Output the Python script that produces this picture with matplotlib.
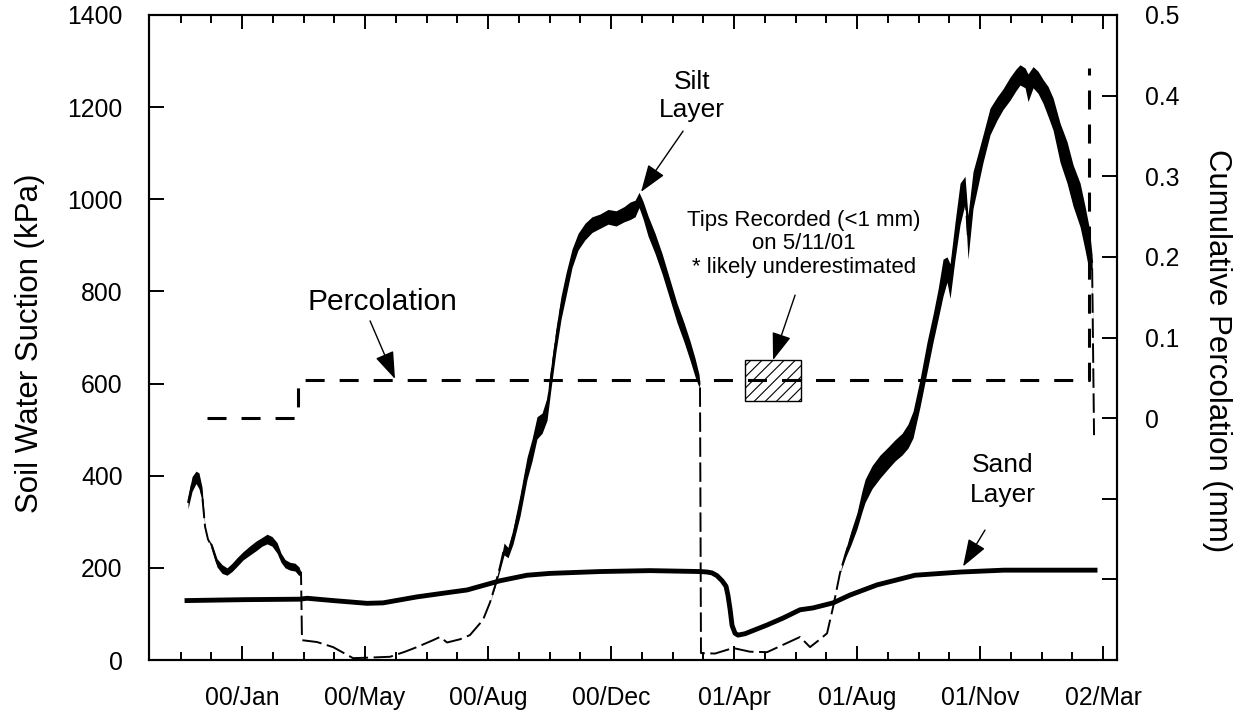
import numpy as np
import matplotlib
matplotlib.use("Agg")
import matplotlib.pyplot as plt
import matplotlib.dates as mdates
from matplotlib.patches import Rectangle
from matplotlib.ticker import FixedLocator, FuncFormatter

plt.rcParams['font.family'] = ['Liberation Sans', 'DejaVu Sans']
plt.rcParams['lines.scale_dashes'] = False
plt.rcParams['hatch.linewidth'] = 0.8

# ---- data (time in days counted from 1 Jan 2000) ----
# silt layer suction: lower / upper envelope of the diurnal swing (kPa)
silt_day = [-31.2, -27.5, -23.9, -21.2, -18.4, -15.7, -13.0, -9.3, -4.8, -0.2,
            4.3, 8.9, 13.4, 18.9, 25.3, 30.7, 36.2, 40.8, 45.3, 49.9,
            53.5, 57.2, 61.7, 66.3, 69.9, 71.7, 72.6, 86.3, 100.9, 119.1,
            131.8, 152.8, 166.4, 177.3, 191.9, 198.3, 204.7, 216.5, 225.5, 237.4,
            243.8, 248.4, 252.9, 256.6, 260.2, 264.8, 271.1, 277.5, 282.1, 286.6,
            291.2, 295.7, 299.4, 303.9, 308.5, 313.0, 318.5, 324.0, 330.3, 336.7,
            344.0, 351.3, 358.6, 365.8, 371.3, 375.9, 379.5, 383.1, 387.7, 394.1,
            400.5, 407.7, 414.1, 420.5, 426.0, 430.5, 434.1, 435.0, 435.9, 448.7,
            465.1, 480.6, 496.1, 507.9, 519.7, 526.1, 535.2, 544.3, 550.7, 556.2,
            562.5, 568.0, 572.5, 578.0, 582.6, 585.3, 591.7, 599.0, 606.2, 612.6,
            619.0, 624.4, 629.0, 635.4, 641.7, 647.2, 651.8, 656.3, 659.9, 662.7,
            667.2, 671.8, 676.3, 679.0, 683.6, 688.2, 692.7, 699.1, 705.5, 711.0,
            717.3, 722.8, 726.4, 731.0, 733.7, 738.3, 742.8, 747.4, 751.9, 756.5,
            762.9, 769.2, 774.7, 781.1, 785.6, 789.3, 792.0, 793.8]
silt_low = [328, 366, 383, 372, 345, 290, 262, 238, 202, 188,
            184, 192, 203, 217, 228, 237, 247, 252, 247, 232,
            212, 200, 195, 193, 183, 190, 43, 39, 28, 4,
            5, 7, 18, 28, 43, 50, 38, 45, 54, 87,
            125, 158, 195, 228, 222, 252, 312, 392, 432, 480,
            492, 520, 590, 670, 740, 790, 852, 890, 912, 928,
            937, 946, 942, 951, 956, 962, 982, 958, 920, 882,
            838, 782, 732, 690, 650, 615, 592, 600, 15, 14,
            26, 18, 17, 30, 43, 50, 28, 45, 58, 115,
            189, 225, 250, 285, 322, 342, 372, 395, 415, 432,
            445, 460, 482, 550, 625, 690, 740, 790, 820, 785,
            870, 945, 990, 870, 980, 1030, 1080, 1140, 1172, 1195,
            1215, 1236, 1248, 1242, 1212, 1242, 1230, 1208, 1180, 1150,
            1080, 1035, 985, 940, 890, 845, 850, 488]
silt_high = [354, 398, 410, 406, 375, 290, 262, 252, 220, 207,
             200, 210, 222, 235, 248, 258, 266, 273, 268, 255,
             232, 218, 212, 210, 202, 190, 43, 39, 28, 4,
             5, 7, 18, 28, 43, 50, 38, 45, 54, 87,
             125, 164, 210, 254, 244, 285, 358, 440, 480, 528,
             536, 570, 640, 720, 790, 840, 892, 926, 948, 962,
             968, 978, 975, 984, 994, 998, 1015, 996, 964, 926,
             882, 825, 774, 732, 692, 655, 620, 600, 15, 14,
             26, 18, 17, 30, 43, 50, 28, 45, 58, 115,
             189, 243, 280, 320, 368, 392, 422, 445, 462, 478,
             492, 512, 540, 610, 690, 750, 805, 870, 875, 860,
             950, 1035, 1050, 965, 1060, 1100, 1140, 1198, 1222, 1240,
             1265, 1283, 1292, 1285, 1272, 1288, 1278, 1260, 1245, 1220,
             1165, 1125, 1075, 1035, 985, 940, 880, 488]

# sand layer suction (kPa)
sand_day = [-32.1, 20.7, 70.8, 77.2, 100.9, 131.8, 146.4, 177.3, 207.4, 222.9,
            252.9, 277.5, 298.5, 344.0, 389.5, 435.0, 441.4, 446.0, 450.5, 455.1,
            458.7, 460.5, 462.4, 464.2, 466.9, 469.6, 476.0, 496.1, 510.6, 526.1,
            537.9, 556.2, 571.6, 596.2, 630.8, 672.7, 711.9, 794.7]
sand_kpa = [129, 131, 132, 134, 129, 123, 124, 137, 147, 152,
            172, 184, 188, 192, 194, 192, 191, 189, 183, 172,
            160, 140, 110, 75, 58, 54, 57, 76, 91, 109,
            113, 124, 141, 163, 184, 191, 195, 195]

# cumulative percolation (mm)
perc_day = [-14, 69, 789]
perc_mm = [0.0, 0.047, 0.434]

# tipping-bucket record of 5/11/01
tips_day = [476, 527]
tips_mm = [0.021, 0.072]

suction_ticks = [0, 200, 400, 600, 800, 1000, 1200, 1400]
perc_ticks = [-0.3, -0.2, -0.1, 0.0, 0.1, 0.2, 0.3, 0.4, 0.5]
first_tick_day = 18
major_step = 112
minor_step = 28
n_major = 8

origin = np.datetime64('2000-01-01T00:00')


def to_num(days):
    d = np.asarray(days, dtype=float)
    return mdates.date2num(origin + np.round(d * 1440).astype('timedelta64[m]'))


fig = plt.figure(figsize=(12.44, 7.19), dpi=100)
ax = fig.add_axes([149 / 1244, 1 - 660 / 719, 968 / 1244, 645 / 719])
ax2 = ax.twinx()

# silt layer: diurnal band plus the dashed trace
ts = to_num(silt_day)
lo = np.array(silt_low, float)
hi = np.array(silt_high, float)
ax.fill_between(ts, lo, hi, color='black', lw=0, zorder=3)
ax.plot(ts, (lo + hi) / 2, color='black', lw=1.4, dashes=(14, 4), zorder=3)

# sand layer
ax.plot(to_num(sand_day), sand_kpa, color='black', lw=3.5, zorder=4,
        solid_joinstyle='round')

# percolation on the right axis
ax2.plot(to_num(perc_day), perc_mm, color='black', lw=2.2,
         drawstyle='steps-post', dashes=(13.7, 10.8), zorder=3)
tx = to_num(tips_day)
ax2.add_patch(Rectangle((tx[0], tips_mm[0]), tx[1] - tx[0],
                        tips_mm[1] - tips_mm[0], facecolor='white',
                        edgecolor='black', hatch='///', lw=1.0, zorder=2))

# axes ranges and ticks
ax.set_xlim(to_num(first_tick_day - 3 * minor_step - 0.7),
            to_num(first_tick_day + (n_major - 1) * major_step + 12.7))
ax.set_ylim(0, 1400)
ax2.set_ylim(-0.3, 0.5)

majors = to_num([first_tick_day + k * major_step for k in range(n_major)])
minors = to_num([first_tick_day - 3 * minor_step + k * minor_step
                 for k in range(1, 4 * n_major + 3)])
ax.xaxis.set_major_locator(FixedLocator(majors))
ax.xaxis.set_minor_locator(FixedLocator(minors))
ax.xaxis.set_major_formatter(mdates.DateFormatter('%y/%b'))
ax.set_yticks(suction_ticks)
ax.set_yticklabels([str(v) for v in suction_ticks])
ax2.yaxis.set_major_locator(FixedLocator(perc_ticks))
ax2.yaxis.set_major_formatter(FuncFormatter(
    lambda v, p: '' if v < -1e-9 else ('0' if abs(v) < 1e-9 else f'{v:.1f}')))

for a in (ax, ax2):
    for s in a.spines.values():
        s.set_linewidth(1.5)
ax.tick_params(axis='x', which='major', direction='in', length=10,
               width=1.4, top=True, labelsize=17.8, pad=19)
ax.tick_params(axis='x', which='minor', direction='in', length=5.5,
               width=1.4, top=True)
ax.tick_params(axis='y', which='major', direction='in', length=10.8,
               width=1.4, labelsize=17.8, pad=19, right=False)
ax2.tick_params(axis='y', which='major', direction='in', length=10.8,
                width=1.4, labelsize=17.8, pad=20)

# axis titles
fig.text(30 / 1244, 1 - 343 / 719, 'Soil Water Suction (kPa)', rotation=90,
         ha='center', va='center', fontsize=22.5)
fig.text(1217 / 1244, 1 - 351 / 719, 'Cumulative Percolation (mm)',
         rotation=270, ha='center', va='center', fontsize=22.5)

# annotations
arrow = dict(arrowstyle='-|>,head_length=0.85,head_width=0.3', color='black',
             lw=1.0, mutation_scale=20, shrinkA=0, shrinkB=0)
ax.text(to_num(145.5), 777, 'Percolation', ha='center', va='center',
        fontsize=21.6)
ax.annotate('', xy=(to_num(157.3), 610), xytext=(to_num(134.6), 736),
            arrowprops=arrow)
ax.text(to_num(427.8), 1224, 'Silt\nLayer', ha='center', va='center',
        fontsize=19, linespacing=1.2)
ax.annotate('', xy=(to_num(381.3), 1016), xytext=(to_num(419.6), 1148),
            arrowprops=arrow)
ax.text(to_num(529.7), 903, 'Tips Recorded (<1 mm)\non 5/11/01\n* likely underestimated',
        ha='center', va='center', fontsize=16, linespacing=1.15)
ax.annotate('', xy=(to_num(501.5), 651), xytext=(to_num(521.6), 792),
            arrowprops=arrow)
ax.text(to_num(711), 391, 'Sand\nLayer', ha='center', va='center',
        fontsize=19, linespacing=1.3)
ax.annotate('', xy=(to_num(674.5), 203), xytext=(to_num(694.5), 282),
            arrowprops=arrow)

fig.savefig('out.png', dpi=100)
